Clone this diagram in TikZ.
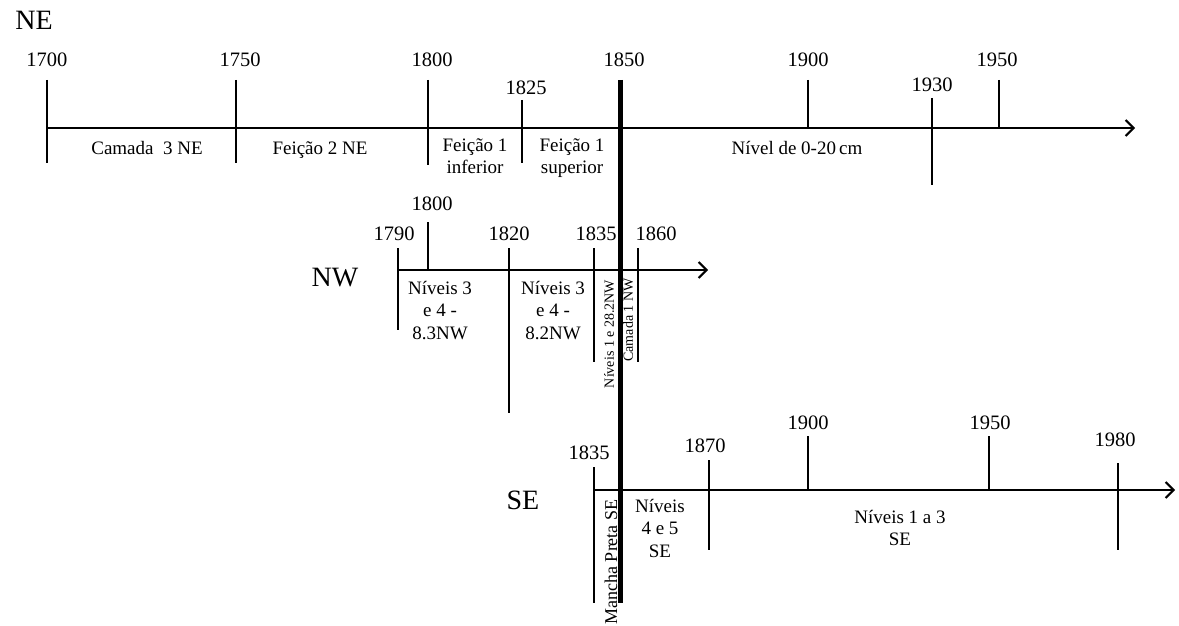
\documentclass[tikz,border=0pt]{standalone}
\usepackage{fontspec}
\setmainfont{Liberation Serif}
\usetikzlibrary{arrows.meta}
\begin{document}
\begin{tikzpicture}[x=1pt,y=-1pt,
 ax/.style={line width=2pt, -{Straight Barb[length=8pt,width=16pt,line width=2pt]}},
 tk/.style={line width=2pt},
 thick line/.style={line width=5pt},
 yr/.style={font=\fontsize{20.5}{24}\selectfont, inner sep=0pt},
 lbl/.style={font=\fontsize{19}{22.5}\selectfont, align=center, inner sep=0pt},
 vt/.style={font=\fontsize{14}{16}\selectfont, rotate=90, inner sep=0pt},
 big/.style={font=\fontsize{28}{32}\selectfont, inner sep=0pt}]
\useasboundingbox (0,0) rectangle (1179,626);

% ---------- NE ----------
\node[big] (ne) at (34,20) {NE};
\coordinate (neS) at (47,128);
\coordinate (neE) at (1135,128);
\draw[ax] (neS) -- (neE);
\draw[tk] (47,80) -- (47,163);
\draw[tk] (236,80) -- (236,163);
\draw[tk] (428,80) -- (428,165);
\draw[tk] (522,100) -- (522,163);
\draw[tk] (808,80) -- (808,128);
\draw[tk] (932,98) -- (932,185);
\draw[tk] (999,80) -- (999,128);
\node[yr] (y1700) at (47,60) {1700};
\node[yr] (y1750) at (240,60) {1750};
\node[yr] (y1800) at (432,60) {1800};
\node[yr] (y1825) at (526,88) {1825};
\node[yr] (y1850) at (624,60) {1850};
\node[yr] (y1900) at (808,60) {1900};
\node[yr] (y1930) at (932,85) {1930};
\node[yr] (y1950) at (997,60) {1950};
\node[lbl,anchor=base] (c3) at (147,154) {Camada\ \ 3 NE};
\node[lbl,anchor=base] (f2) at (320,154) {Feição 2 NE};
\node[lbl,anchor=north] (f1i) at (475,138) {Feição 1\\inferior};
\node[lbl,anchor=north] (f1s) at (572,138) {Feição 1\\superior};
\node[lbl,anchor=base] (n020) at (797,154) {Nível de 0-20\,cm};

% ---------- NW ----------
\node[big] (nw) at (335,278) {NW};
\coordinate (nwS) at (398,270);
\coordinate (nwE) at (708,270);
\draw[ax] (nwS) -- (nwE);
\draw[tk] (398,248) -- (398,330);
\draw[tk] (428,222) -- (428,270);
\draw[tk] (509,248) -- (509,413);
\draw[tk] (594,248) -- (594,362);
\draw[tk] (638,248) -- (638,362);
\node[yr] (w1790) at (394,234) {1790};
\node[yr] (w1800) at (432,204) {1800};
\node[yr] (w1820) at (509,234) {1820};
\node[yr] (w1835) at (596,234) {1835};
\node[yr] (w1860) at (656,234) {1860};
\node[lbl,anchor=north] (n83) at (440,281) {Níveis 3\\e 4 -\\8.3NW};
\node[lbl,anchor=north] (n82) at (553,281) {Níveis 3\\e 4 -\\8.2NW};
\node[vt] (n12) at (609,334) {Níveis 1 e 28.2NW};
\node[vt] (c1) at (628,320) {Camada 1 NW};

% ---------- SE ----------
\node[big] (se) at (523,500) {SE};
\coordinate (seS) at (594,490);
\coordinate (seE) at (1175,490);
\draw[ax] (seS) -- (seE);
\draw[tk] (594,467) -- (594,603);
\draw[tk] (709,460) -- (709,550);
\draw[tk] (808,436) -- (808,490);
\draw[tk] (989,436) -- (989,490);
\draw[tk] (1118,463) -- (1118,550);
\node[yr] (s1835) at (589,453) {1835};
\node[yr] (s1870) at (705,446) {1870};
\node[yr] (s1900) at (808,423) {1900};
\node[yr] (s1950) at (990,423) {1950};
\node[yr] (s1980) at (1115,440) {1980};
\node[vt,font=\fontsize{18}{20}\selectfont] (mp) at (611,562) {Mancha Preta SE};
\node[lbl,anchor=north] (n45) at (660,499) {Níveis\\4 e 5\\SE};
\node[lbl,anchor=north] (n13) at (900,510) {Níveis 1 a 3\\SE};

% ---------- 1850 line ----------
\draw[thick line] (620,80) -- (620,603);
\end{tikzpicture}
\end{document}
